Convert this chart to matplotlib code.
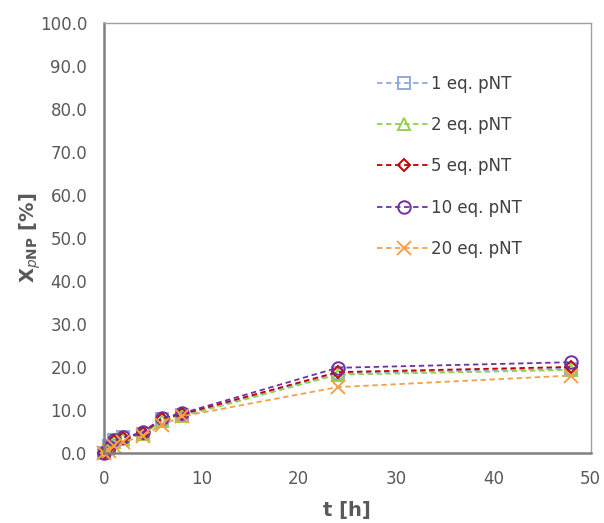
import matplotlib.pyplot as plt

# time points [h]
t = [0, 0.5, 1, 2, 4, 6, 8, 24, 48]

# conversion of pNP [%] per pNT equivalent
x_1eq = [0.0, 1.5, 3.0, 3.8, 4.5, 7.8, 8.8, 18.5, 19.6]
x_2eq = [0.0, 1.2, 2.5, 3.3, 4.3, 7.5, 8.5, 18.2, 19.3]
x_5eq = [0.0, 1.3, 2.8, 3.5, 4.6, 8.0, 9.0, 18.8, 20.0]
x_10eq = [0.0, 1.4, 2.9, 3.6, 4.8, 8.2, 9.2, 19.8, 21.1]
x_20eq = [0.0, 0.5, 1.5, 2.5, 4.0, 6.5, 8.5, 15.3, 18.0]

labels = ['1 eq. pNT', '2 eq. pNT', '5 eq. pNT', '10 eq. pNT', '20 eq. pNT']
series = [x_1eq, x_2eq, x_5eq, x_10eq, x_20eq]
colors = ['#8FAADC', '#92D050', '#C00000', '#7030A0', '#F4A04A']
markers = ['s', '^', 'D', 'o', 'x']
msizes = [8, 9, 6.5, 9, 10]

fig = plt.figure(figsize=(6.04, 5.23), dpi=100)
ax = fig.add_axes([0.172, 0.134, 0.806, 0.822])

for y, lab, c, m, ms in zip(series, labels, colors, markers, msizes):
    ax.plot(t, y, linestyle='--', dashes=(3, 2), color=c, lw=1.3,
            marker=m, markersize=ms, markerfacecolor='none',
            markeredgecolor=c, markeredgewidth=1.4, label=lab, clip_on=False)

ax.set_xlim(0, 50)
ax.set_ylim(0, 100)
ax.set_xticks(range(0, 51, 10))
ax.set_yticks(range(0, 101, 10))
ax.set_yticklabels([f'{v:.1f}' for v in range(0, 101, 10)])
ax.tick_params(axis='y', length=0, labelsize=12, colors='#595959', pad=12)
ax.tick_params(axis='x', length=0, labelsize=12, colors='#595959', pad=12)

for s in ['top', 'right']:
    ax.spines[s].set_color('#A0A0A0')
    ax.spines[s].set_linewidth(1.0)
for s in ['left', 'bottom']:
    ax.spines[s].set_color('#808080')
    ax.spines[s].set_linewidth(1.8)

ax.set_xlabel('t [h]', fontsize=14, fontweight='bold', color='#595959', labelpad=10)
ax.set_ylabel(r'$\mathbf{X_{\mathit{p}NP}}$ [%]', fontsize=14, fontweight='bold',
              color='#595959', labelpad=-2)

leg = ax.legend(loc='upper left', bbox_to_anchor=(0.53, 0.915), frameon=False,
                fontsize=12, labelspacing=1.4, handlelength=3.2, handletextpad=0.05)
for txt in leg.get_texts():
    txt.set_color('#404040')

fig.savefig('out.png', dpi=100)
